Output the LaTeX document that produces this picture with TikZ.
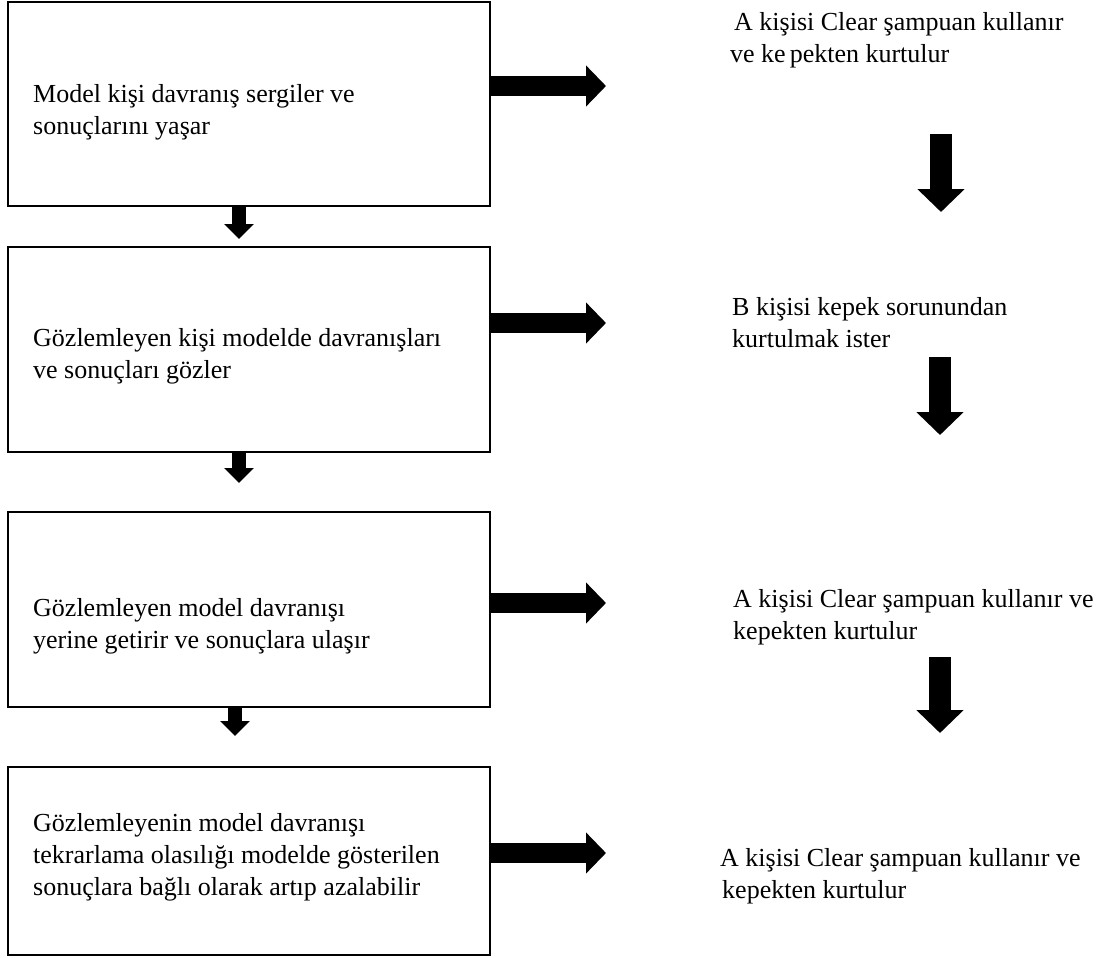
\documentclass[tikz,border=0pt]{standalone}
\usepackage{fontspec}
\setmainfont{Liberation Serif}
\usetikzlibrary{positioning, arrows.meta}

\begin{document}
\begin{tikzpicture}[x=1pt, y=-1pt]
        \tikzstyle{box} = [rectangle, draw=black, line width=2.5pt,
          minimum width=482pt, inner sep=0pt]
        \tikzstyle{txt} = [align=left, inner sep=0pt, anchor=base west,
          font=\fontsize{26}{32}\selectfont]
        \tikzstyle{rarrow} = [line width=20pt, -{Triangle[length=20pt, width=40pt]}]
        \tikzstyle{darrow} = [line width=14pt, -{Triangle[length=15pt, width=29pt]}]
        \tikzstyle{bigdarrow} = [line width=22pt, -{Triangle[length=23pt, width=46pt]}]

        \useasboundingbox (0,0) rectangle (1101,958);

        % left column
        \node[box, minimum height=204pt] (box1) at (249,104) {};
        \node[box, minimum height=205pt] (box2) at (249,349.5) {};
        \node[box, minimum height=195pt] (box3) at (249,609.5) {};
        \node[box, minimum height=188pt] (box4) at (249,861) {};

        % text nodes sit on the baseline of their last line
        \node[txt] (lt1) at (33,134) {Model kişi davranış sergiler ve\\sonuçlarını yaşar};
        \node[txt] (lt2) at (33,378) {Gözlemleyen kişi modelde davranışları\\ve sonuçları gözler};
        \node[txt] (lt3) at (33,648) {Gözlemleyen model davranışı\\yerine getirir ve sonuçlara ulaşır};
        \node[txt] (lt4) at (33,895) {Gözlemleyenin model davranışı\\tekrarlama olasılığı modelde gösterilen\\sonuçlara bağlı olarak artıp azalabilir};

        % right column
        \node[txt] (rt1) at (730,63) {\hspace{4pt}A kişisi Clear şampuan kullanır\\ve ke\kern4pt pekten kurtulur};
        \node[txt] (rt2) at (732,347) {B kişisi kepek sorunundan\\kurtulmak ister};
        \node[txt] (rt3) at (733,639) {A kişisi Clear şampuan kullanır ve\\kepekten kurtulur};
        \node[txt] (rt4) at (720,898) {A kişisi Clear şampuan kullanır ve\\\hspace{2pt}kepekten kurtulur};

        % arrow ends
        \coordinate (a1) at (239,239);
        \coordinate (a2) at (239,483);
        \coordinate (a3) at (235,736);
        \foreach \b/\a [count=\n] in {box1/a1, box2/a2, box3/a3}
          \draw[darrow] (\b.south -| \a) -- (\a);

        \coordinate (r1) at (606,86);
        \coordinate (r2) at (606,323);
        \coordinate (r3) at (606,603);
        \coordinate (r4) at (606,853);
        \foreach \i in {1,...,4}
          \draw[rarrow] (box\i.east |- r\i) -- (r\i);

        \coordinate (d1s) at (941,134);
        \coordinate (d1e) at (941,212);
        \coordinate (d2s) at (940,357);
        \coordinate (d2e) at (940,435);
        \coordinate (d3s) at (940,657);
        \coordinate (d3e) at (940,733);
        \foreach \i in {1,2,3}
          \draw[bigdarrow] (d\i s) -- (d\i e);
\end{tikzpicture}
\end{document}
